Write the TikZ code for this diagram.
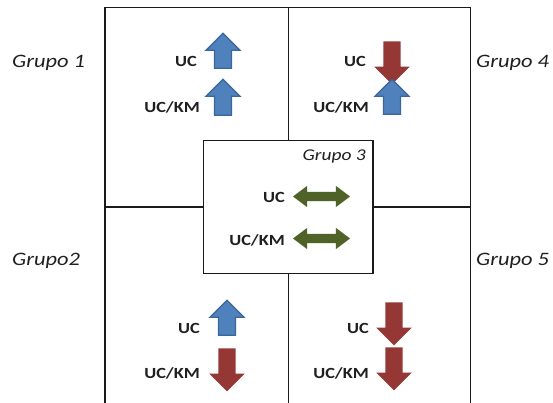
\documentclass[tikz,border=0pt]{standalone}
\usepackage{fontspec}
\setmainfont{Carlito}[FakeStretch=1.18]
\usetikzlibrary{shapes.arrows}
\definecolor{blueF}{HTML}{4F81BD}
\definecolor{blueD}{HTML}{3A6798}
\definecolor{redF}{HTML}{953735}
\definecolor{greenF}{HTML}{4F6228}
\definecolor{txt}{HTML}{1F1F1F}
\definecolor{frame}{HTML}{1A1A1A}
\begin{document}
\begin{tikzpicture}[x=1pt,y=-1pt,
  lbl/.style={font=\bfseries\fontsize{15.5}{16}\selectfont, text=txt, anchor=base east, inner sep=0pt},
  grp/.style={font=\itshape\fontsize{19}{19}\selectfont, text=txt, anchor=base west, inner sep=0pt},
  framel/.style={draw=frame, line width=1.3pt},
  uparrow/.style={single arrow, shape border rotate=90, inner sep=7.8pt, minimum height=#1,
    single arrow head extend=8.5pt, fill=blueF, draw=blueD, line width=1.3pt},
  downarrow/.style={single arrow, shape border rotate=270, inner sep=8.5pt, minimum height=#1,
    single arrow head extend=9pt, fill=redF},
  bothway/.style={double arrow, inner sep=4.5pt, minimum height=57pt, double arrow tip angle=74,
    double arrow head extend=6pt, fill=greenF}]
\useasboundingbox (0,0) rectangle (553,403);
% frame
\coordinate (tl) at (105,7.5);
\coordinate (tr) at (470.5,7.5);
\coordinate (bl) at (105,403);
\coordinate (br) at (470.5,403);
\coordinate (mt) at (288.5,7.5);
\coordinate (mb) at (288.5,403);
\coordinate (ml) at (105,207);
\coordinate (mr) at (470.5,207);
\draw[framel] (bl) -- (tl) -- (tr) -- (br);
\draw[framel] (mt) -- (mb);
\draw[framel] (ml) -- (mr);
\node[framel, fill=white, minimum width=169.5pt, minimum height=132.5pt, inner sep=0pt] (box3) at (288.25,207) {};
% group labels
\node[grp] (g1) at (12,68) {Grupo 1};
\node[grp] (g2) at (12,265) {Grupo2};
\node[grp] (g4) at (476,68) {Grupo 4};
\node[grp] (g5) at (476,265) {Grupo 5};
\node[grp, anchor=base east, font=\itshape\fontsize{16.5}{16.5}\selectfont] (g3) at (366,160.5) {Grupo 3};
% group 1
\node[lbl] (t1a) at (197,67) {UC};
\node[uparrow=35pt] (a1a) at (223,55) {};
\node[lbl] (t1b) at (200,113) {UC/KM};
\node[uparrow=36pt] (a1b) at (223,101.5) {};
% group 4
\node[lbl] (t4a) at (366,67) {UC};
\node[downarrow=43pt] (a4a) at (392,58.5) {};
\node[lbl] (t4b) at (369,113) {UC/KM};
\node[uparrow=35pt] (a4b) at (392,101) {};
% group 3
\node[lbl] (t3a) at (285,202) {UC};
\node[bothway] (a3a) at (321.5,196.5) {};
\node[lbl] (t3b) at (285,245) {UC/KM};
\node[bothway] (a3b) at (321.5,238.5) {};
% group 2
\node[lbl] (t2a) at (200,333) {UC};
\node[uparrow=35pt] (a2a) at (227,322) {};
\node[lbl] (t2b) at (200,378) {UC/KM};
\node[downarrow=43pt] (a2b) at (227,365.5) {};
% group 5
\node[lbl] (t5a) at (369,333) {UC};
\node[downarrow=43pt] (a5a) at (394,319.5) {};
\node[lbl] (t5b) at (369,378) {UC/KM};
\node[downarrow=43pt] (a5b) at (394,364.5) {};
\end{tikzpicture}
\end{document}
